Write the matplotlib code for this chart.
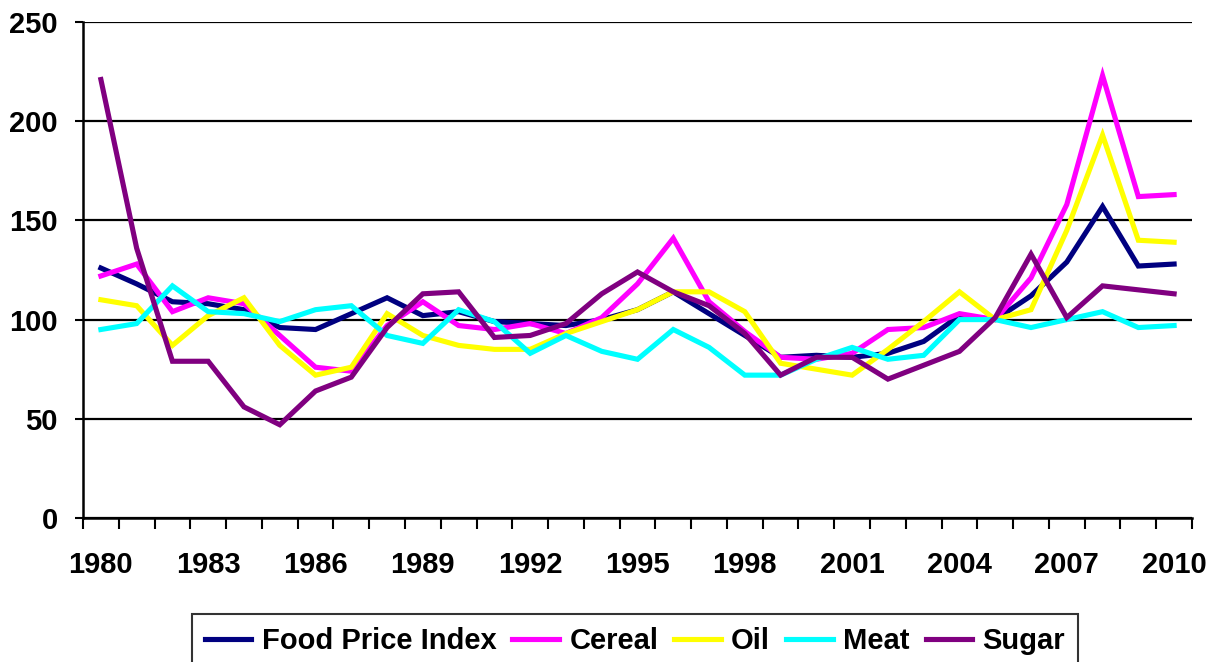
import matplotlib
matplotlib.use("Agg")
import matplotlib.pyplot as plt
import numpy as np

years = list(range(1980, 2011))
food_price_index = [126, 118, 109, 108, 105, 96, 95, 103, 111, 102, 104, 99, 98, 97, 100, 105,
                    114, 103, 92, 81, 82, 81, 83, 89, 102, 100, 112, 129, 157, 127, 128]
cereal = [122, 128, 104, 111, 108, 92, 76, 74, 97, 109, 97, 95, 98, 93, 101, 118,
          141, 109, 94, 81, 80, 83, 95, 96, 103, 100, 121, 158, 223, 162, 163]
oil = [110, 107, 87, 102, 111, 87, 72, 76, 103, 92, 87, 85, 85, 93, 99, 105,
       114, 114, 104, 78, 75, 72, 85, 99, 114, 100, 105, 145, 193, 140, 139]
meat = [95, 98, 117, 104, 103, 99, 105, 107, 92, 88, 105, 99, 83, 92, 84, 80,
        95, 86, 72, 72, 80, 86, 80, 82, 100, 100, 96, 100, 104, 96, 97]
sugar = [221, 136, 79, 79, 56, 47, 64, 71, 96, 113, 114, 91, 92, 98, 113, 124,
         114, 107, 93, 72, 81, 81, 70, 77, 84, 101, 133, 101, 117, 115, 113]

series = [("Food Price Index", food_price_index, "#000080"),
          ("Cereal", cereal, "#FF00FF"),
          ("Oil", oil, "#FFFF00"),
          ("Meat", meat, "#00FFFF"),
          ("Sugar", sugar, "#800080")]

plt.rcParams['font.family'] = ['Liberation Sans', 'DejaVu Sans']
FS = 21

fig = plt.figure(figsize=(12.18, 6.62), dpi=100)
ax = fig.add_axes([83/1218, 1-518/662, (1192-83)/1218, (518-22)/662])

x = np.arange(len(years))
for name, vals, col in series:
    ax.plot(x, vals, color=col, lw=3.7, label=name, solid_joinstyle='miter')

ax.set_xlim(-0.5, len(years)-0.5)
ax.set_ylim(0, 250)
ax.set_yticks([0, 50, 100, 150, 200, 250])
ax.yaxis.grid(True, color='black', lw=1.6)
ax.set_axisbelow(True)

ax.set_xticks(x[::3])
ax.set_xticklabels([str(y) for y in years[::3]])
ax.set_xticks(np.arange(-0.5, len(years)), minor=True)
ax.tick_params(axis='x', which='major', length=0, pad=24)
ax.tick_params(axis='x', which='minor', length=8, width=1.5, direction='out')
ax.tick_params(axis='y', length=6, width=1.5, pad=12)

for lab in ax.get_xticklabels() + ax.get_yticklabels():
    lab.set_fontsize(FS)
    lab.set_fontweight('bold')

for s in ['top', 'right']:
    ax.spines[s].set_visible(False)
for s in ['left', 'bottom']:
    ax.spines[s].set_linewidth(1.8)

leg = fig.legend(loc='upper center', bbox_to_anchor=(635/1218, 1-614/662), ncol=5,
                 prop={'size': FS, 'weight': 'bold'}, frameon=True, fancybox=False,
                 edgecolor='black', handlelength=1.6, handletextpad=0.35,
                 columnspacing=0.55, borderpad=0.45, borderaxespad=0)
leg.get_frame().set_linewidth(1.5)

fig.savefig("out.png", dpi=100)
